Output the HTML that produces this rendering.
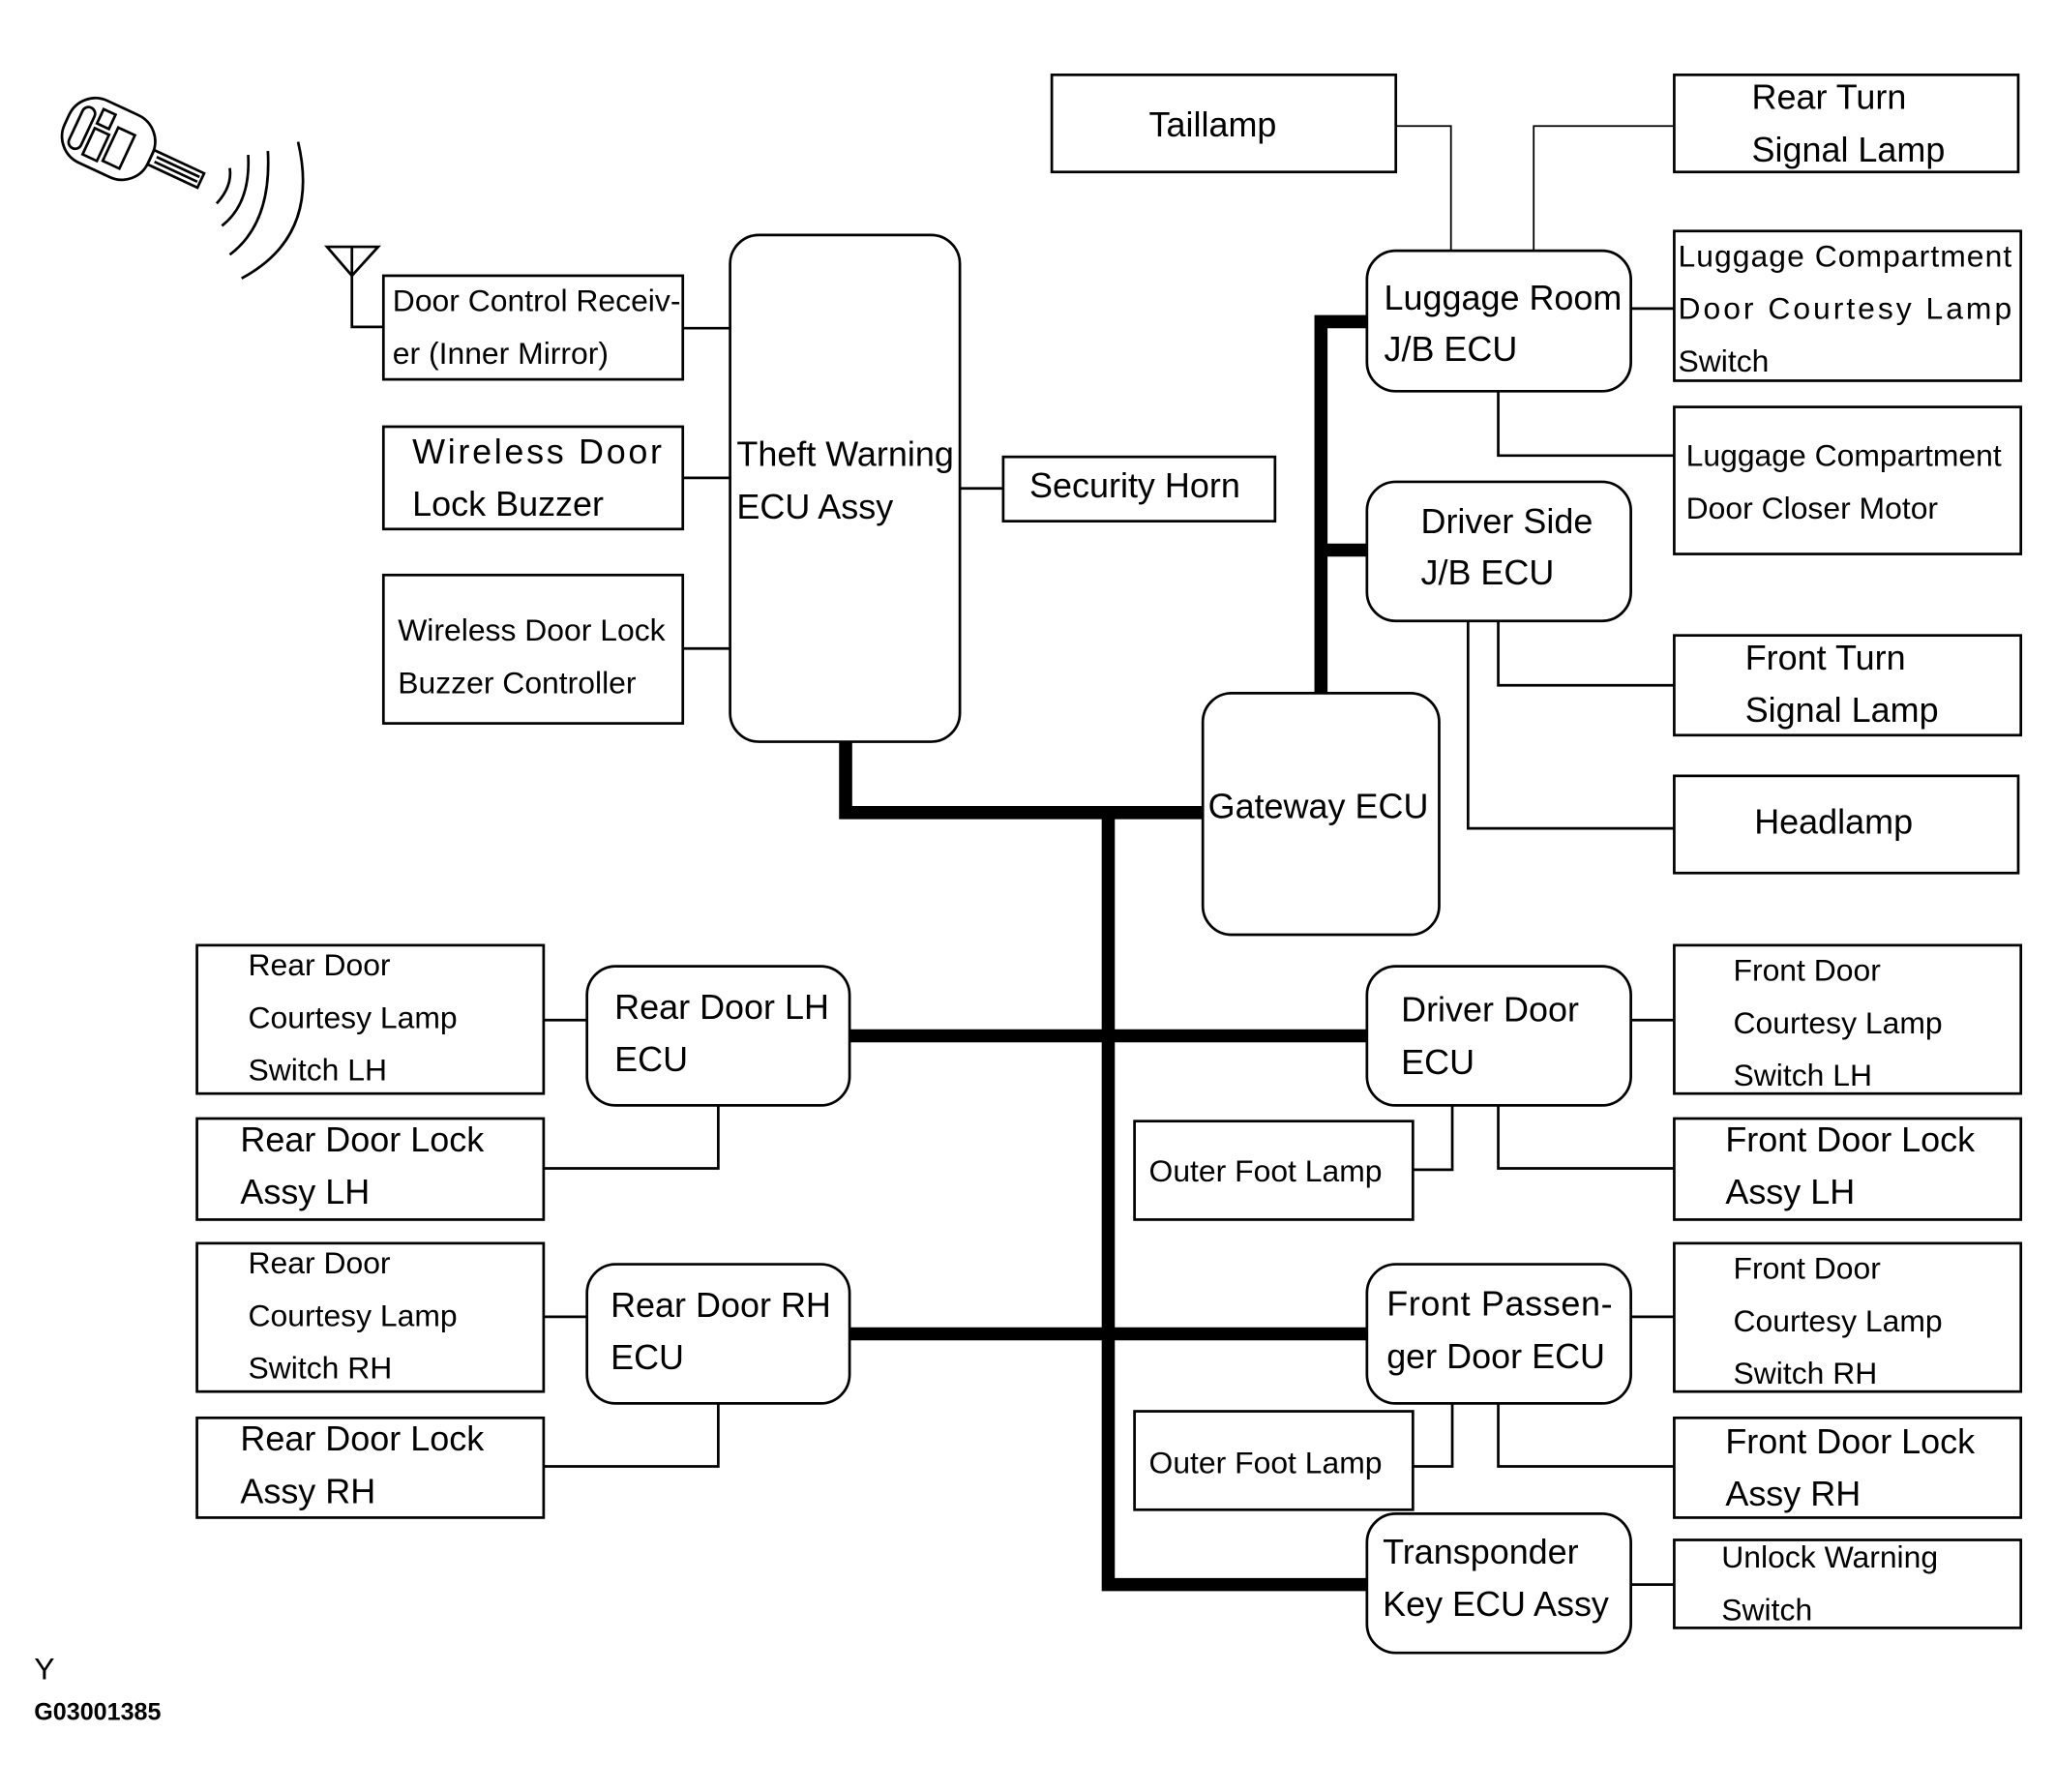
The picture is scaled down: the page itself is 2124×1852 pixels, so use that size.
<!DOCTYPE html>
<html><head><meta charset="utf-8"><style>
html,body{margin:0;padding:0;background:#fff}
svg{display:block}
text{font-family:"Liberation Sans",sans-serif;font-size:26.5px;fill:#000}
.s{font-size:23.5px}
</style></head><body>
<svg width="2124" height="1852" viewBox="1 0 1565 1365" preserveAspectRatio="none" xmlns="http://www.w3.org/2000/svg">
<g fill="none" stroke="#000" stroke-width="2">
<g transform="rotate(25 95 110)">
<rect x="48" y="85" width="70" height="52" rx="22"/>
<rect x="56" y="95" width="10" height="34" rx="5"/>
<rect x="70" y="92" width="10" height="12"/><rect x="70" y="108" width="12" height="22"/>
<rect x="86" y="100" width="14" height="28"/>
<rect x="118" y="104" width="42" height="12"/>
<line x1="122" y1="108" x2="158" y2="108"/><line x1="122" y1="112" x2="158" y2="112"/>
</g>
<path d="M166 155 Q178 142 176 128"/>
<path d="M170 172 Q192 155 190 118"/>
<path d="M176 194 Q208 170 205 115"/>
<path d="M185 212 Q245 180 228 108"/>
<path d="M250 188 L289 188 L269 210 Z"/>
<path d="M269 188 V249 H293"/>
<rect x="802" y="57" width="262" height="74"/>
<rect x="1276" y="57" width="262" height="74"/>
<rect x="1276" y="176" width="264" height="114"/>
<rect x="1276" y="310" width="264" height="112"/>
<rect x="1276" y="484" width="264" height="76"/>
<rect x="1276" y="591" width="262" height="74"/>
<rect x="765" y="348" width="207" height="49"/>
<rect x="293" y="210" width="228" height="79"/>
<rect x="293" y="325" width="228" height="78"/>
<rect x="293" y="438" width="228" height="113"/>
<rect x="151" y="720" width="264" height="113"/>
<rect x="151" y="852" width="264" height="77"/>
<rect x="151" y="947" width="264" height="113"/>
<rect x="151" y="1080" width="264" height="76"/>
<rect x="1276" y="720" width="264" height="113"/>
<rect x="1276" y="852" width="264" height="77"/>
<rect x="1276" y="947" width="264" height="113"/>
<rect x="1276" y="1080" width="264" height="76"/>
<rect x="1276" y="1173" width="264" height="67"/>
<rect x="865" y="854" width="212" height="75"/>
<rect x="865" y="1075" width="212" height="75"/>
<rect x="1042" y="191" width="201" height="107" rx="22"/>
<rect x="1042" y="367" width="201" height="106" rx="22"/>
<rect x="917" y="528" width="180" height="184" rx="22"/>
<rect x="557" y="179" width="175" height="386" rx="22"/>
<rect x="448" y="736" width="200" height="106" rx="22"/>
<rect x="448" y="963" width="200" height="106" rx="22"/>
<rect x="1042" y="736" width="201" height="106" rx="22"/>
<rect x="1042" y="963" width="201" height="106" rx="22"/>
<rect x="1042" y="1153" width="201" height="106" rx="22"/>
<path stroke-width="1.3" d="M1064 96 H1106 V191 M1276 96 H1169 V191"/>
<path d="M1243 235 H1276 M1142 298 V347 H1276 M1142 473 V522 H1276 M1119 473 V631 H1276"/>
<path d="M521 250 H557 M521 364 H557 M521 494 H557 M732 372 H765"/>
<path d="M415 777 H448 M548 842 V890 H415 M415 1003 H448 M548 1069 V1117 H415"/>
<path d="M1243 777 H1276 M1107 842 V891 H1077 M1142 842 V890 H1276"/>
<path d="M1243 1003 H1276 M1107 1069 V1117 H1077 M1142 1069 V1117 H1276 M1243 1207 H1276"/>
</g>
<g fill="none" stroke="#000" stroke-width="10">
<path d="M645 565 V619 H917"/>
<path d="M845 619 V1207 H1042"/>
<path d="M648 789 H1042 M648 1016 H1042"/>
<path d="M1007 528 V245 H1042 M1007 419 H1042"/>
</g>
<text x="876" y="104">Taillamp</text>
<text x="1335" y="83">Rear Turn</text><text x="1335" y="123">Signal Lamp</text>
<text class="s" x="1279" y="203" textLength="254">Luggage Compartment</text>
<text class="s" x="1279" y="243" textLength="254">Door Courtesy Lamp</text>
<text class="s" x="1279" y="283">Switch</text>
<text class="s" x="1285" y="355">Luggage Compartment</text>
<text class="s" x="1285" y="395">Door Closer Motor</text>
<text x="1055" y="236">Luggage Room</text><text x="1055" y="275">J/B ECU</text>
<text x="1083" y="406">Driver Side</text><text x="1083" y="445">J/B ECU</text>
<text x="1330" y="510">Front Turn</text><text x="1330" y="550">Signal Lamp</text>
<text x="1337" y="635">Headlamp</text>
<text x="921" y="623">Gateway ECU</text>
<text x="562" y="355">Theft Warning</text><text x="562" y="395">ECU Assy</text>
<text x="785" y="379">Security Horn</text>
<text class="s" x="300" y="237">Door Control Receiv-</text><text class="s" x="300" y="277">er (Inner Mirror)</text>
<text x="315" y="353" textLength="190">Wireless Door</text><text x="315" y="393">Lock Buzzer</text>
<text class="s" x="304" y="488">Wireless Door Lock</text><text class="s" x="304" y="528">Buzzer Controller</text>
<text x="469" y="776">Rear Door LH</text><text x="469" y="816">ECU</text>
<text class="s" x="190" y="743">Rear Door</text><text class="s" x="190" y="783">Courtesy Lamp</text><text class="s" x="190" y="823">Switch LH</text>
<text x="184" y="877">Rear Door Lock</text><text x="184" y="917">Assy LH</text>
<text x="466" y="1003">Rear Door RH</text><text x="466" y="1043">ECU</text>
<text class="s" x="190" y="970">Rear Door</text><text class="s" x="190" y="1010">Courtesy Lamp</text><text class="s" x="190" y="1050">Switch RH</text>
<text x="184" y="1105">Rear Door Lock</text><text x="184" y="1145">Assy RH</text>
<text x="1068" y="778">Driver Door</text><text x="1068" y="818">ECU</text>
<text class="s" x="1321" y="747">Front Door</text><text class="s" x="1321" y="787">Courtesy Lamp</text><text class="s" x="1321" y="827">Switch LH</text>
<text class="s" x="876" y="900">Outer Foot Lamp</text>
<text x="1315" y="877">Front Door Lock</text><text x="1315" y="917">Assy LH</text>
<text x="1057" y="1002" textLength="172">Front Passen-</text><text x="1057" y="1042">ger Door ECU</text>
<text class="s" x="1321" y="974">Front Door</text><text class="s" x="1321" y="1014">Courtesy Lamp</text><text class="s" x="1321" y="1054">Switch RH</text>
<text class="s" x="876" y="1122">Outer Foot Lamp</text>
<text x="1315" y="1107">Front Door Lock</text><text x="1315" y="1147">Assy RH</text>
<text x="1054" y="1191">Transponder</text><text x="1054" y="1231">Key ECU Assy</text>
<text class="s" x="1312" y="1194">Unlock Warning</text><text class="s" x="1312" y="1234">Switch</text>
<text class="s" x="27" y="1279">Y</text>
<text x="27" y="1310" style="font-size:18.5px;font-weight:bold">G03001385</text>
</svg>
</body></html>
